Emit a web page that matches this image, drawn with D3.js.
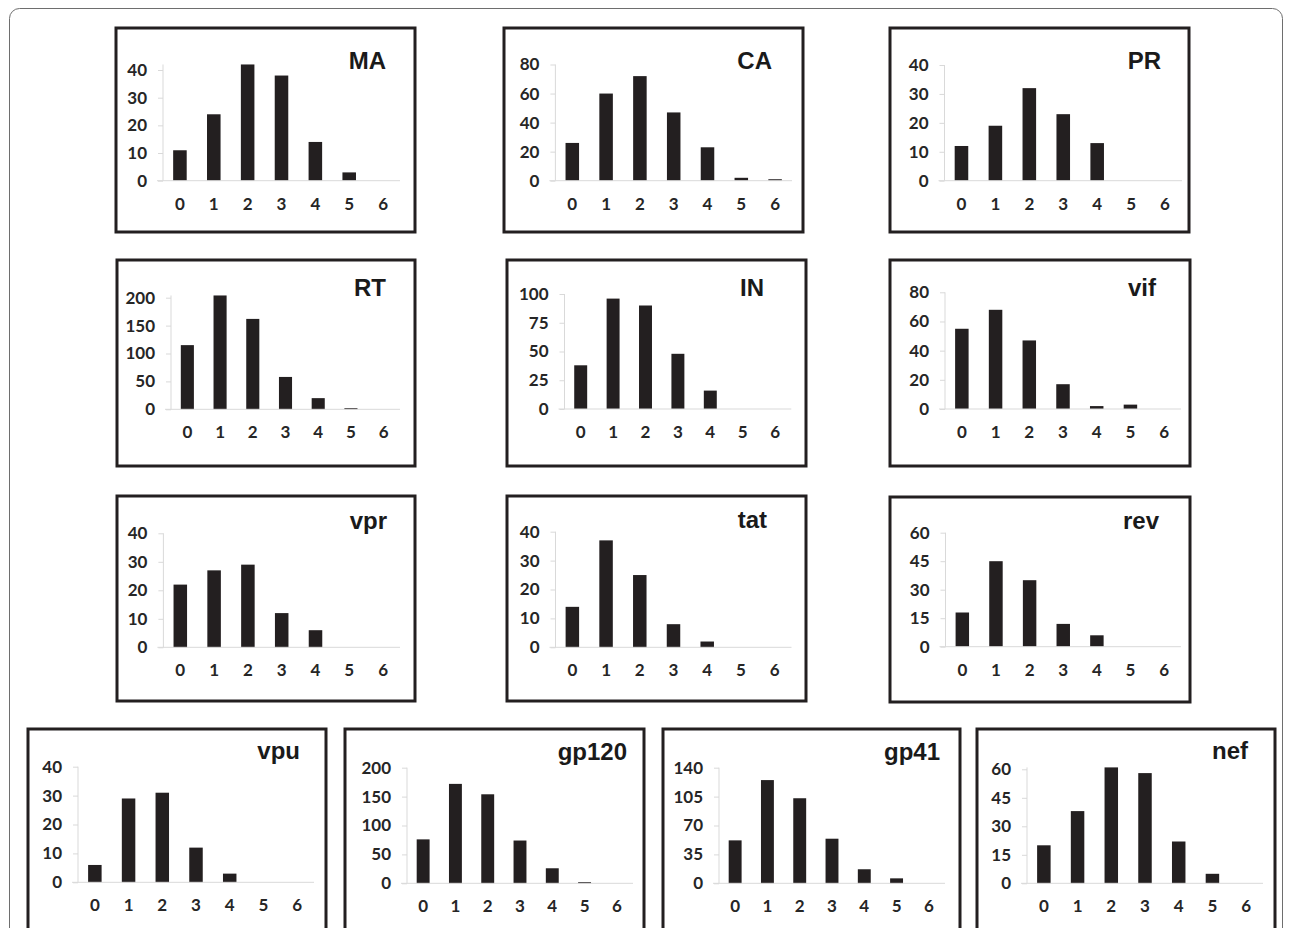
<!DOCTYPE html>
<html>
<head>
<meta charset="utf-8">
<script src="https://cdn.jsdelivr.net/npm/d3@7"></script>
<style>
  html, body { margin: 0; padding: 0; background: #ffffff; }
  svg { display: block; }
</style>
</head>
<body>
<svg id="chart" width="1290" height="928"></svg>
<script>
// ---------- DATA ----------
const categories = ["0", "1", "2", "3", "4", "5", "6"];
const genes = ["MA", "CA", "PR", "RT", "IN", "vif", "vpr", "tat", "rev", "vpu", "gp120", "gp41", "nef"];

const valuesMA    = [11, 24, 42, 38, 14, 3, 0];
const valuesCA    = [26, 60, 72, 47, 23, 2, 1];
const valuesPR    = [12, 19, 32, 23, 13, 0, 0];
const valuesRT    = [115, 204, 162, 58, 20, 2, 0];
const valuesIN    = [38, 96, 90, 48, 16, 0, 0];
const valuesVif   = [55, 68, 47, 17, 2, 3, 0];
const valuesVpr   = [22, 27, 29, 12, 6, 0, 0];
const valuesTat   = [14, 37, 25, 8, 2, 0, 0];
const valuesRev   = [18, 45, 35, 12, 6, 0, 0];
const valuesVpu   = [6, 29, 31, 12, 3, 0, 0];
const valuesGp120 = [76, 172, 154, 74, 26, 2, 0];
const valuesGp41  = [52, 125, 103, 54, 17, 6, 0];
const valuesNef   = [20, 38, 61, 58, 22, 5, 0];

const ticksMA    = [0, 10, 20, 30, 40];
const ticksCA    = [0, 20, 40, 60, 80];
const ticksPR    = [0, 10, 20, 30, 40];
const ticksRT    = [0, 50, 100, 150, 200];
const ticksIN    = [0, 25, 50, 75, 100];
const ticksVif   = [0, 20, 40, 60, 80];
const ticksVpr   = [0, 10, 20, 30, 40];
const ticksTat   = [0, 10, 20, 30, 40];
const ticksRev   = [0, 15, 30, 45, 60];
const ticksVpu   = [0, 10, 20, 30, 40];
const ticksGp120 = [0, 50, 100, 150, 200];
const ticksGp41  = [0, 35, 70, 105, 140];
const ticksNef   = [0, 15, 30, 45, 60];

const seriesValues = [valuesMA, valuesCA, valuesPR, valuesRT, valuesIN, valuesVif,
  valuesVpr, valuesTat, valuesRev, valuesVpu, valuesGp120, valuesGp41, valuesNef];
const seriesTicks = [ticksMA, ticksCA, ticksPR, ticksRT, ticksIN, ticksVif,
  ticksVpr, ticksTat, ticksRev, ticksVpu, ticksGp120, ticksGp41, ticksNef];

// ---------- LAYOUT (positions only) ----------
// box: [x0, y0, x1, y1]; plot: [axisX, rightX, topTickY, baseY]; title: [rightX, baselineY]
const layout = [
  { box: [116, 28, 415, 232],  plot: [163, 400, 70, 180.7],      title: [386, 68.5] },
  { box: [504, 28, 803, 232],  plot: [555.4, 792, 64.5, 180.7],  title: [772, 69] },
  { box: [890, 28, 1189, 232], plot: [944.5, 1182, 65, 180.7],   title: [1161, 69] },
  { box: [117, 260, 415, 466], plot: [171, 400, 297.7, 409.3],   title: [386, 296] },
  { box: [507, 260, 806, 466], plot: [564.5, 791.3, 294, 409],   title: [764, 296] },
  { box: [890, 260, 1190, 466],plot: [945, 1181, 292.3, 409],    title: [1156, 295.7] },
  { box: [117, 496, 415, 701], plot: [163.4, 400, 533.3, 647.3], title: [387, 529.3] },
  { box: [507, 496, 806, 701], plot: [555.5, 791.5, 531.7, 647.3], title: [767, 528.3] },
  { box: [890, 497, 1190, 702],plot: [945.5, 1181, 532.7, 646.7], title: [1159, 529] },
  { box: [28, 729, 326, 960],  plot: [78, 314, 766.7, 882.3],    title: [300, 759.3] },
  { box: [345, 729, 644, 960], plot: [407, 633, 767.7, 883.3],   title: [627, 760] },
  { box: [663, 729, 960, 960], plot: [719, 945, 767.7, 883.3],   title: [940, 760] },
  { box: [977, 729, 1275, 960],plot: [1027, 1263, 769.3, 883.3], title: [1248, 759] }
];

// ---------- DRAW ----------
const svg = d3.select("#chart");

svg.append("rect")
  .attr("x", 9.5).attr("y", 8.5)
  .attr("width", 1273).attr("height", 1000)
  .attr("rx", 10).attr("ry", 10)
  .attr("fill", "#ffffff")
  .attr("stroke", "#6e6e6e")
  .attr("stroke-width", 1);

const barColor = "#231f20";
const axisColor = "#d9d9d9";
const labelFont = "Lato, 'Open Sans', sans-serif";
const titleFont = "'Liberation Sans', Arial, sans-serif";
const labelSize = 17;
const labelColor = "#262626";

genes.forEach((gene, i) => {
  const L = layout[i];
  const vals = seriesValues[i];
  const ticks = seriesTicks[i];
  const [bx0, by0, bx1, by1] = L.box;
  const [ax, rx, ty, baseY] = L.plot;
  const g = svg.append("g");

  // panel frame
  g.append("rect")
    .attr("x", bx0).attr("y", by0)
    .attr("width", bx1 - bx0).attr("height", by1 - by0)
    .attr("fill", "#ffffff")
    .attr("stroke", barColor)
    .attr("stroke-width", 3);

  const x = d3.scaleBand()
    .domain(categories)
    .range([ax, rx])
    .paddingInner(0.6)
    .paddingOuter(0.3);

  const tickMax = d3.max(ticks);
  const y = d3.scaleLinear()
    .domain([0, tickMax])
    .range([baseY, ty]);

  const topVal = Math.max(tickMax, d3.max(vals));

  // y axis line + ticks
  const yAxis = d3.axisLeft(y).tickValues(ticks).tickSize(5).tickPadding(11);
  const yg = g.append("g").attr("transform", `translate(${ax},0)`).call(yAxis);
  yg.select(".domain").remove();
  yg.selectAll(".tick line").attr("stroke", axisColor);
  yg.selectAll(".tick text")
    .attr("font-family", labelFont)
    .attr("font-weight", 700)
    .attr("font-size", labelSize)
    .attr("fill", labelColor);
  g.append("line")
    .attr("x1", ax).attr("x2", ax)
    .attr("y1", y(0)).attr("y2", y(topVal))
    .attr("stroke", axisColor).attr("stroke-width", 1);

  // bars
  g.selectAll("rect.bar")
    .data(categories.map((c, k) => ({ c, v: vals[k] })))
    .enter().append("rect")
    .attr("class", "bar")
    .attr("x", d => x(d.c))
    .attr("width", x.bandwidth())
    .attr("y", d => y(d.v))
    .attr("height", d => y(0) - y(d.v))
    .attr("fill", barColor);

  // x axis
  const xAxis = d3.axisBottom(x).tickSize(0).tickPadding(17);
  const xg = g.append("g").attr("transform", `translate(0,${baseY})`).call(xAxis);
  xg.select(".domain").remove();
  xg.selectAll(".tick text")
    .attr("font-family", labelFont)
    .attr("font-weight", 700)
    .attr("font-size", labelSize)
    .attr("fill", labelColor);
  g.append("line")
    .attr("x1", ax - 6).attr("x2", rx)
    .attr("y1", y(0)).attr("y2", y(0))
    .attr("stroke", axisColor).attr("stroke-width", 1);

  // title
  g.append("text")
    .attr("x", L.title[0]).attr("y", L.title[1])
    .attr("text-anchor", "end")
    .attr("font-family", titleFont)
    .attr("font-weight", 700)
    .attr("font-size", 24)
    .attr("fill", "#1a1a1a")
    .text(gene);
});
</script>
</body>
</html>
